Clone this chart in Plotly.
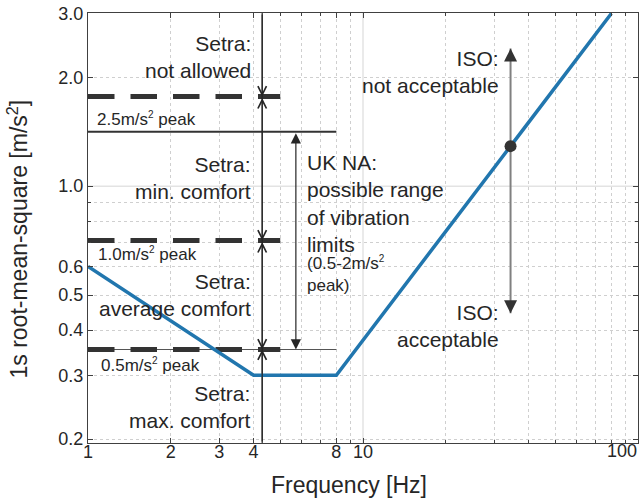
import numpy as np
import plotly.graph_objects as go

# ---------------- data ----------------
iso_f = [1, 4, 8, 80]
iso_a = [0.6, 0.3, 0.3, 3.0]

setra_peak = [2.5, 1.0, 0.5]
crest = np.sqrt(2)
setra_rms = [p / crest for p in setra_peak]
setra_f = [1, 5]
setra_arrow_f = 4.3

uk_peak = [2.0, 0.5]
uk_rms = [p / crest for p in uk_peak]
uk_f = [1, 8]
uk_arrow_f = 5.7

iso_pt_f = 34.4
iso_pt_a = 0.3 * iso_pt_f / 8
iso_arrow = [2.4, 0.445]

x_range = [1, 100]
y_range = [0.195, 3.01]
x_ticks = [1, 2, 3, 4, 8, 10, 100]
x_ticktext = ["1", "2", "3", "4", "8", "10", ""]
y_ticks = [0.2, 0.3, 0.4, 0.5, 0.6, 1.0, 2.0, 3.0]
y_ticktext = ["0.2", "0.3", "0.4", "0.5", "0.6", "1.0", "2.0", "3.0"]
x_minor = [2, 3, 4, 5, 6, 7, 8, 9, 20, 30, 40, 50, 60, 70, 80, 90]
y_minor = [0.2, 0.3, 0.4, 0.5, 0.6, 0.7, 0.8, 0.9, 2.0, 3.0]

FONT = "Liberation Sans, Arial, sans-serif"
TXT = "#262626"
W, H = 643, 498
ML, MR, MT, MB = 88, 4, 10, 55
PW, PH = W - ML - MR, H - MT - MB

def px(xp):
    return (xp - ML) / PW

def py(yp):
    return (MT + PH - yp) / PH

L = np.log10

fig = go.Figure()

# decade grid lines (solid, light)
fig.add_trace(go.Scatter(x=[10, 10], y=y_range, mode="lines",
                         line=dict(color="#e3e3e3", width=1.5), hoverinfo="skip"))
fig.add_trace(go.Scatter(x=x_range, y=[1, 1], mode="lines",
                         line=dict(color="#e3e3e3", width=1.5), hoverinfo="skip"))

# UK NA solid lines
fig.add_trace(go.Scatter(x=uk_f, y=[uk_rms[0]] * 2, mode="lines",
                         line=dict(color="#333333", width=2)))
fig.add_trace(go.Scatter(x=uk_f, y=[uk_rms[1]] * 2, mode="lines",
                         line=dict(color="#555555", width=1.2)))

# Setra dashed levels
for r in setra_rms:
    fig.add_trace(go.Scatter(x=setra_f, y=[r, r], mode="lines",
                             line=dict(color="#333333", width=5, dash="26.5px,16px")))

# Setra vertical line
fig.add_trace(go.Scatter(x=[setra_arrow_f] * 2, y=y_range, mode="lines",
                         line=dict(color="#262626", width=1.2)))

# ISO curve
fig.add_trace(go.Scatter(x=iso_f, y=iso_a, mode="lines",
                         line=dict(color="#2176ae", width=3.5)))

# ISO arrow line
fig.add_trace(go.Scatter(x=[iso_pt_f] * 2, y=iso_arrow, mode="lines",
                         line=dict(color="#808080", width=2)))
fig.add_trace(go.Scatter(x=[iso_pt_f], y=[iso_pt_a], mode="markers",
                         marker=dict(color="#333333", size=12)))

def arrow(x, y, ax, ay, head=5, both=False, color="#262626", width=1.2, size=1.4):
    fig.add_annotation(x=L(x), y=L(y), ax=L(ax), ay=L(ay),
                       xref="x", yref="y", axref="x", ayref="y",
                       text="", showarrow=True, arrowhead=head, arrowsize=size,
                       arrowwidth=width, arrowcolor=color,
                       arrowside="end+start" if both else "end",
                       startarrowhead=head, startarrowsize=size,
                       standoff=0, startstandoff=0)

# Setra arrows
arrow(setra_arrow_f, setra_rms[0], setra_arrow_f, y_range[1])
arrow(setra_arrow_f, setra_rms[1], setra_arrow_f, setra_rms[0], both=True)
arrow(setra_arrow_f, setra_rms[2], setra_arrow_f, setra_rms[1], both=True)
arrow(setra_arrow_f, setra_rms[2], setra_arrow_f, y_range[0])

# UK NA arrow
arrow(uk_arrow_f, uk_rms[1], uk_arrow_f, uk_rms[0], head=2, both=True,
      color="#262626", width=1.2, size=1.7)

# ISO arrow heads
arrow(iso_pt_f, iso_arrow[0], iso_pt_f, iso_arrow[0] / 1.09, head=2,
      color="#333333", width=1.3, size=2.0)
arrow(iso_pt_f, iso_arrow[1], iso_pt_f, iso_arrow[1] * 1.09, head=2,
      color="#333333", width=1.3, size=2.0)

SUP = '<sup><span style="font-size:10px">2</span></sup>'

def label(text, xp, yp, xanchor, size=21, align=None):
    fig.add_annotation(x=px(xp), y=py(yp), xref="paper", yref="paper",
                       text=text, showarrow=False, xanchor=xanchor, yanchor="middle",
                       align=align or xanchor, font=dict(family=FONT, size=size, color=TXT))

label("Setra:<br>not allowed", 253.5, 54, "right")
label("2.5m/s" + SUP + " peak", 95, 117, "left", size=17)
label("Setra:<br>min. comfort", 253.5, 176.5, "right")
label("1.0m/s" + SUP + " peak", 96.5, 253, "left", size=17)
label("Setra:<br>average comfort", 253.5, 293.5, "right")
label("0.5m/s" + SUP + " peak", 99.5, 364, "left", size=17)
label("Setra:<br>max. comfort", 253.5, 406.5, "right")
label("UK NA:<br>possible range<br>of vibration<br>limits", 305, 201.5, "left")
label("(0.5-2m/s" + SUP + "<br>peak)", 305, 273, "left", size=17)
label("ISO:<br>not acceptable", 502, 69.5, "right")
label("ISO:<br>acceptable", 502, 325.5, "right")

# "100" tick label right-aligned at the axis end
label("100", ML + PW + 1, 451, "right", size=18)

# axis titles
fig.add_annotation(x=px(349), y=py(485), xref="paper", yref="paper",
                   text="Frequency [Hz]", showarrow=False, xanchor="center", yanchor="middle",
                   font=dict(family=FONT, size=23, color=TXT))
fig.add_annotation(x=px(18), y=py(238), xref="paper", yref="paper",
                   text="1s root-mean-square [m/s<sup>2</sup>]", showarrow=False,
                   textangle=-90, xanchor="center", yanchor="middle",
                   font=dict(family=FONT, size=23, color=TXT))

axis_common = dict(type="log", showline=True, linecolor="#404040", linewidth=1,
                   mirror="ticks", ticks="inside", ticklen=5, tickcolor="#404040",
                   showgrid=False, zeroline=False,
                   tickfont=dict(family=FONT, size=18, color=TXT))

fig.update_xaxes(range=[L(x_range[0]), L(x_range[1])], tickmode="array",
                 tickvals=x_ticks, ticktext=x_ticktext, ticklabelstandoff=-8,
                 minor=dict(tickmode="array", tickvals=x_minor, ticks="inside", ticklen=3,
                            tickcolor="#404040", showgrid=True, gridcolor="#cfcfcf",
                            griddash="dot", gridwidth=1),
                 **axis_common)
fig.update_yaxes(range=[L(y_range[0]), L(y_range[1])], tickmode="array",
                 tickvals=y_ticks, ticktext=y_ticktext,
                 minor=dict(tickmode="array", tickvals=y_minor, ticks="inside", ticklen=3,
                            tickcolor="#404040", showgrid=True, gridcolor="#cfcfcf",
                            griddash="dot", gridwidth=1),
                 **axis_common)

fig.update_layout(width=W, height=H, margin=dict(l=ML, r=MR, t=MT, b=MB),
                  plot_bgcolor="white", paper_bgcolor="white", showlegend=False,
                  font=dict(family=FONT, color=TXT))

fig.write_html("out.html", config={"displayModeBar": False},
               post_script="document.body.style.margin='0';document.body.style.overflow='hidden';")
